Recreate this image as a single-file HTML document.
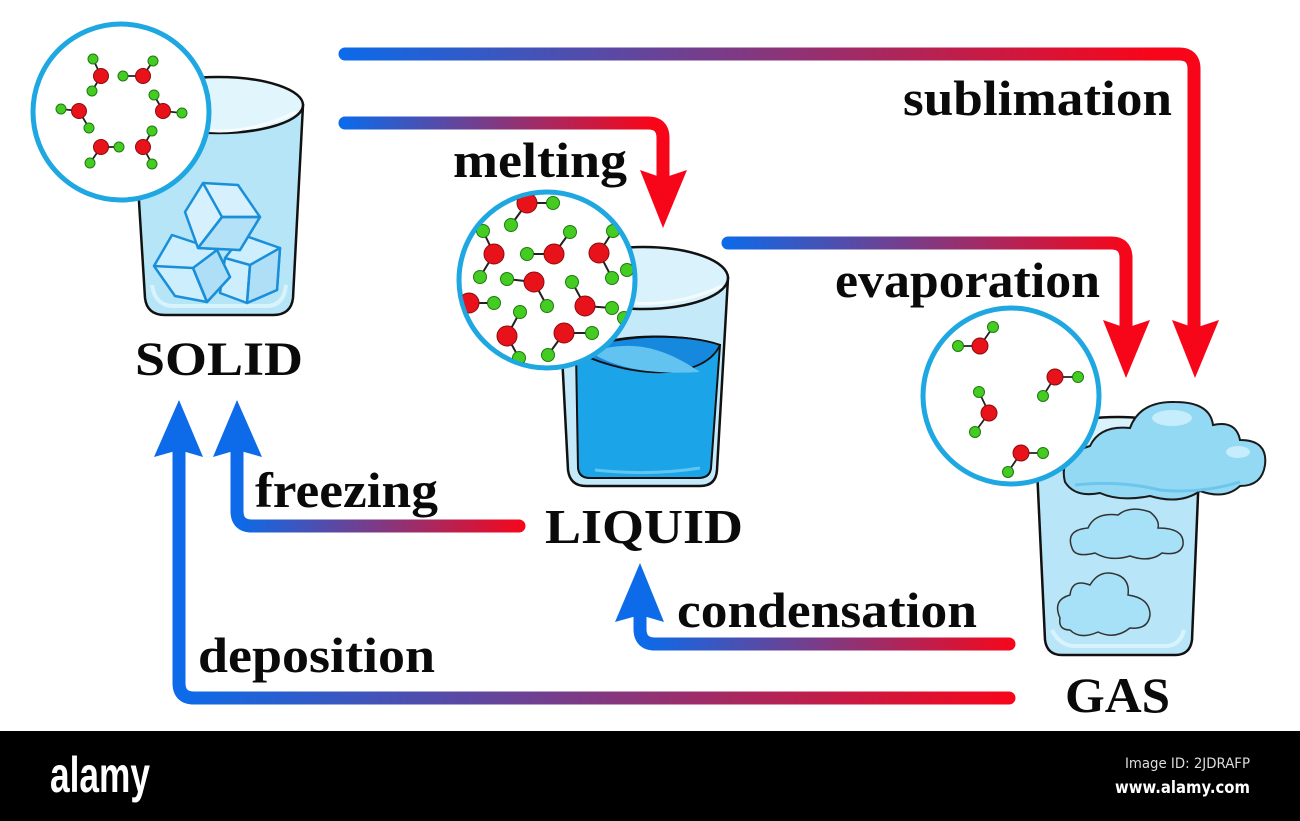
<!DOCTYPE html>
<html><head><meta charset="utf-8"><style>
html,body{margin:0;padding:0;background:#fff;}
svg{display:block;}
text{font-family:"Liberation Serif",serif;font-weight:bold;fill:#0a0a0a;}
</style></head><body>
<svg width="1300" height="821" viewBox="0 0 1300 821" xmlns="http://www.w3.org/2000/svg">
<defs>
<linearGradient id="gSub" gradientUnits="userSpaceOnUse" x1="345" y1="0" x2="1150" y2="0"><stop offset="0" stop-color="#0d6ae8"/><stop offset="1" stop-color="#f7061a"/></linearGradient>
<linearGradient id="gMel" gradientUnits="userSpaceOnUse" x1="345" y1="0" x2="650" y2="0"><stop offset="0" stop-color="#0d6ae8"/><stop offset="1" stop-color="#f7061a"/></linearGradient>
<linearGradient id="gEva" gradientUnits="userSpaceOnUse" x1="725" y1="0" x2="1126" y2="0"><stop offset="0" stop-color="#0d6ae8"/><stop offset="1" stop-color="#f7061a"/></linearGradient>
<linearGradient id="gFre" gradientUnits="userSpaceOnUse" x1="240" y1="0" x2="525" y2="0"><stop offset="0" stop-color="#0d6ae8"/><stop offset="1" stop-color="#f7061a"/></linearGradient>
<linearGradient id="gDep" gradientUnits="userSpaceOnUse" x1="185" y1="0" x2="1015" y2="0"><stop offset="0" stop-color="#0d6ae8"/><stop offset="1" stop-color="#f7061a"/></linearGradient>
<linearGradient id="gCon" gradientUnits="userSpaceOnUse" x1="645" y1="0" x2="1015" y2="0"><stop offset="0" stop-color="#0d6ae8"/><stop offset="1" stop-color="#f7061a"/></linearGradient>
<clipPath id="cS"><circle cx="121" cy="112" r="86"/></clipPath>
<clipPath id="cL"><circle cx="547" cy="280" r="86"/></clipPath>
<clipPath id="cG"><circle cx="1011" cy="396" r="86"/></clipPath>
</defs>
<rect x="0" y="0" width="1300" height="821" fill="#fff"/>

<!-- ARROWS -->
<g fill="none" stroke-width="13" stroke-linecap="round" stroke-linejoin="round">
<path d="M345,54 H1179 Q1194,54 1194,69 V326" stroke="url(#gSub)"/>
<path d="M345,123 H648 Q663,123 663,138 V176" stroke="url(#gMel)"/>
<path d="M728,243 H1111 Q1126,243 1126,258 V326" stroke="url(#gEva)"/>
<path d="M519,526 H252 Q237,526 237,511 V452" stroke="url(#gFre)"/>
<path d="M1009,698 H194 Q179,698 179,683 V452" stroke="url(#gDep)"/>
<path d="M1009,644 H655 Q640,644 640,629 V617" stroke="url(#gCon)"/>
</g>
<g fill="#f7061a">
<polygon points="1172,320 1195,328 1219,320 1195,378"/>
<polygon points="640,170 663,178 687,170 663,228"/>
<polygon points="1103,320 1126,328 1150,320 1126,378"/>
</g>
<g fill="#0d6ae8">
<polygon points="213,457 237,450 262,457 237,400"/>
<polygon points="154,457 179,450 203,457 179,400"/>
<polygon points="615,622 640,615 664,622 640,563"/>
</g>

<!-- SOLID GLASS -->
<path d="M133,105 L145,298 Q147,315 165,315 L273,315 Q291,315 293,298 L303,105 Z" fill="#b6e5f8" stroke="#111" stroke-width="2.5"/>
<path d="M152,285 Q155,305 172,306 L268,306 Q284,305 286,285" fill="none" stroke="#d9f3fc" stroke-width="4"/>
<ellipse cx="218" cy="105" rx="85" ry="28" fill="#e1f5fd" stroke="#111" stroke-width="2.5"/>
<path d="M145,112 Q218,150 296,112" fill="none" stroke="#f6fcff" stroke-width="3"/>
<!-- ice cubes -->
<g stroke="#1a8fd9" stroke-width="2.5" stroke-linejoin="round">
<polygon points="243,235 280,248 277,290 247,303 220,293 225,258" fill="#cdeefc"/>
<polygon points="250,265 280,248 277,290 247,303" fill="#aedff7"/>
<polyline points="225,258 250,265 247,303" fill="none"/>
<polygon points="172,235 217,250 230,277 207,302 175,296 154,266" fill="#cdeefc"/>
<polygon points="193,268 217,250 230,277 207,302" fill="#aedff7"/>
<polyline points="154,266 193,268 207,302" fill="none"/>
<polygon points="203,183 238,185 260,217 240,250 198,248 185,212" fill="#d6f1fd"/>
<polygon points="222,217 260,217 240,250 198,248" fill="#b3e1f8"/>
<polyline points="203,183 222,217 260,217" fill="none"/>
<line x1="222" y1="217" x2="198" y2="248"/>
</g>
<!-- solid circle -->
<circle cx="121" cy="112" r="88" fill="#fff" stroke="#1ea7e1" stroke-width="5"/>
<g clip-path="url(#cS)">
<g stroke="#222" stroke-width="1.8">
<line x1="101" y1="76" x2="93" y2="59"/><line x1="101" y1="76" x2="92" y2="91"/>
<line x1="143" y1="76" x2="123" y2="76"/><line x1="143" y1="76" x2="153" y2="61"/>
<line x1="163" y1="111" x2="154" y2="95"/><line x1="163" y1="111" x2="182" y2="113"/>
<line x1="79" y1="111" x2="61" y2="109"/><line x1="79" y1="111" x2="89" y2="128"/>
<line x1="101" y1="147" x2="119" y2="147"/><line x1="101" y1="147" x2="90" y2="163"/>
<line x1="143" y1="147" x2="152" y2="131"/><line x1="143" y1="147" x2="152" y2="164"/>
</g>
<g fill="#45cc22" stroke="#1f7a10" stroke-width="1">
<circle cx="93" cy="59" r="5"/><circle cx="92" cy="91" r="5"/>
<circle cx="123" cy="76" r="5"/><circle cx="153" cy="61" r="5"/>
<circle cx="154" cy="95" r="5"/><circle cx="182" cy="113" r="5"/>
<circle cx="61" cy="109" r="5"/><circle cx="89" cy="128" r="5"/>
<circle cx="119" cy="147" r="5"/><circle cx="90" cy="163" r="5"/>
<circle cx="152" cy="131" r="5"/><circle cx="152" cy="164" r="5"/>
</g>
<g fill="#e8121a" stroke="#8a0c0c" stroke-width="1">
<circle cx="101" cy="76" r="7.5"/><circle cx="143" cy="76" r="7.5"/>
<circle cx="163" cy="111" r="7.5"/><circle cx="79" cy="111" r="7.5"/>
<circle cx="101" cy="147" r="7.5"/><circle cx="143" cy="147" r="7.5"/>
</g>
</g>

<!-- LIQUID GLASS -->
<path d="M558,278 L568,470 Q570,486 586,486 L700,486 Q716,486 717,470 L728,278 Z" fill="#c4eaf9" stroke="#111" stroke-width="2.5"/>
<path d="M576,352 C620,330 690,335 720,345 L711,468 Q710,478 698,478 L590,478 Q579,478 578,468 Z" fill="#1ba4e7" stroke="#111" stroke-width="2"/>
<path d="M576,352 C620,332 690,334 720,345 C705,378 640,382 576,352 Z" fill="#1689df" stroke="#111" stroke-width="1.8"/>
<path d="M590,352 C630,340 660,345 700,372 C650,375 615,368 590,352 Z" fill="#63c3f0"/>
<path d="M595,470 Q650,476 700,468" fill="none" stroke="#5fc6f2" stroke-width="3"/>
<ellipse cx="643" cy="278" rx="85" ry="31" fill="#d9f2fc" stroke="#111" stroke-width="2.5"/>
<path d="M566,284 Q643,322 722,286" fill="none" stroke="#f4fbff" stroke-width="3"/>
<!-- liquid circle -->
<circle cx="547" cy="280" r="88" fill="#fff" stroke="#1ea7e1" stroke-width="5"/>
<g clip-path="url(#cL)">
<g stroke="#222" stroke-width="2">
<line x1="527" y1="203" x2="553" y2="203"/><line x1="527" y1="203" x2="511" y2="225"/>
<line x1="494" y1="254" x2="483" y2="231"/><line x1="494" y1="254" x2="480" y2="277"/>
<line x1="554" y1="254" x2="527" y2="254"/><line x1="554" y1="254" x2="570" y2="232"/>
<line x1="599" y1="253" x2="613" y2="231"/><line x1="599" y1="253" x2="612" y2="278"/>
<line x1="534" y1="282" x2="507" y2="279"/><line x1="534" y1="282" x2="547" y2="306"/>
<line x1="469" y1="303" x2="494" y2="303"/>
<line x1="585" y1="306" x2="572" y2="282"/><line x1="585" y1="306" x2="612" y2="308"/>
<line x1="507" y1="336" x2="520" y2="312"/><line x1="507" y1="336" x2="519" y2="358"/>
<line x1="564" y1="333" x2="592" y2="333"/><line x1="564" y1="333" x2="548" y2="355"/>
</g>
<g fill="#45cc22" stroke="#1f7a10" stroke-width="1">
<circle cx="553" cy="203" r="6.5"/><circle cx="511" cy="225" r="6.5"/>
<circle cx="483" cy="231" r="6.5"/><circle cx="480" cy="277" r="6.5"/>
<circle cx="527" cy="254" r="6.5"/><circle cx="570" cy="232" r="6.5"/>
<circle cx="613" cy="231" r="6.5"/><circle cx="612" cy="278" r="6.5"/>
<circle cx="507" cy="279" r="6.5"/><circle cx="547" cy="306" r="6.5"/>
<circle cx="494" cy="303" r="6.5"/>
<circle cx="572" cy="282" r="6.5"/><circle cx="612" cy="308" r="6.5"/>
<circle cx="520" cy="312" r="6.5"/><circle cx="519" cy="358" r="6.5"/>
<circle cx="592" cy="333" r="6.5"/><circle cx="548" cy="355" r="6.5"/>
<circle cx="627" cy="270" r="6.5"/><circle cx="624" cy="318" r="6.5"/>
</g>
<g fill="#e8121a" stroke="#8a0c0c" stroke-width="1">
<circle cx="527" cy="203" r="10"/><circle cx="494" cy="254" r="10"/>
<circle cx="554" cy="254" r="10"/><circle cx="599" cy="253" r="10"/>
<circle cx="534" cy="282" r="10"/><circle cx="469" cy="303" r="10"/>
<circle cx="585" cy="306" r="10"/><circle cx="507" cy="336" r="10"/>
<circle cx="564" cy="333" r="10"/>
</g>
</g>

<!-- GAS GLASS -->
<path d="M1036,447 L1045,640 Q1047,655 1062,655 L1175,655 Q1190,655 1192,640 L1200,447 Z" fill="#b8e6f8" stroke="#111" stroke-width="2.5"/>
<path d="M1052,630 Q1060,646 1075,646 L1165,646 Q1180,646 1184,630" fill="none" stroke="#d9f3fc" stroke-width="4"/>
<ellipse cx="1118" cy="447" rx="82" ry="30" fill="#d9f2fc" stroke="#111" stroke-width="2.5"/>
<!-- top cloud -->
<path d="M1065,482 Q1058,455 1090,446 Q1100,425 1130,428 Q1140,401 1175,402 Q1210,402 1213,425 Q1236,420 1240,440 Q1268,440 1265,465 Q1262,486 1240,486 Q1225,500 1200,491 Q1180,505 1150,496 Q1120,502 1100,493 Q1075,498 1065,482 Z" fill="#93d9f4" stroke="#1a1a1a" stroke-width="2"/>
<ellipse cx="1172" cy="418" rx="20" ry="8" fill="#c5edfb"/>
<ellipse cx="1238" cy="452" rx="12" ry="6" fill="#c5edfb"/>
<path d="M1075,485 Q1120,480 1160,490 Q1200,494 1240,482" fill="none" stroke="#6cc6ec" stroke-width="3"/>
<!-- inner clouds -->
<path d="M1072,548 Q1065,530 1088,528 Q1095,512 1118,515 Q1130,505 1150,512 Q1160,520 1158,528 Q1185,528 1183,545 Q1180,556 1162,553 Q1150,563 1130,556 Q1110,562 1095,553 Q1075,558 1072,548 Z" fill="#a6e1f7" stroke="#333" stroke-width="1.5"/>
<path d="M1060,618 Q1052,600 1070,595 Q1072,578 1090,585 Q1100,568 1118,575 Q1130,580 1128,595 Q1150,598 1150,615 Q1148,630 1130,628 Q1115,640 1098,632 Q1080,640 1070,630 Q1058,630 1060,618 Z" fill="#a6e1f7" stroke="#333" stroke-width="1.5"/>
<!-- gas circle -->
<circle cx="1011" cy="396" r="88" fill="#fff" stroke="#1ea7e1" stroke-width="5"/>
<g clip-path="url(#cG)">
<g stroke="#222" stroke-width="1.8">
<line x1="980" y1="346" x2="958" y2="346"/><line x1="980" y1="346" x2="993" y2="327"/>
<line x1="1055" y1="377" x2="1078" y2="377"/><line x1="1055" y1="377" x2="1043" y2="396"/>
<line x1="989" y1="413" x2="979" y2="392"/><line x1="989" y1="413" x2="975" y2="432"/>
<line x1="1021" y1="453" x2="1043" y2="453"/><line x1="1021" y1="453" x2="1008" y2="472"/>
</g>
<g fill="#45cc22" stroke="#1f7a10" stroke-width="1">
<circle cx="958" cy="346" r="5.5"/><circle cx="993" cy="327" r="5.5"/>
<circle cx="1078" cy="377" r="5.5"/><circle cx="1043" cy="396" r="5.5"/>
<circle cx="979" cy="392" r="5.5"/><circle cx="975" cy="432" r="5.5"/>
<circle cx="1043" cy="453" r="5.5"/><circle cx="1008" cy="472" r="5.5"/>
</g>
<g fill="#e8121a" stroke="#8a0c0c" stroke-width="1">
<circle cx="980" cy="346" r="8"/><circle cx="1055" cy="377" r="8"/>
<circle cx="989" cy="413" r="8"/><circle cx="1021" cy="453" r="8"/>
</g>
</g>

<!-- LABELS -->
<text x="135" y="375" font-size="48" textLength="168" lengthAdjust="spacingAndGlyphs">SOLID</text>
<text x="545" y="543" font-size="49" textLength="198" lengthAdjust="spacingAndGlyphs">LIQUID</text>
<text x="1065" y="712" font-size="50" textLength="105" lengthAdjust="spacingAndGlyphs">GAS</text>
<text x="453" y="177" font-size="50" textLength="174" lengthAdjust="spacingAndGlyphs">melting</text>
<text x="903" y="115" font-size="50" textLength="269" lengthAdjust="spacingAndGlyphs">sublimation</text>
<text x="835" y="297" font-size="50" textLength="265" lengthAdjust="spacingAndGlyphs">evaporation</text>
<text x="255" y="507" font-size="50" textLength="183" lengthAdjust="spacingAndGlyphs">freezing</text>
<text x="198" y="672" font-size="50" textLength="237" lengthAdjust="spacingAndGlyphs">deposition</text>
<text x="677" y="627" font-size="50" textLength="300" lengthAdjust="spacingAndGlyphs">condensation</text>

<!-- BOTTOM BAR -->
<rect x="0" y="731" width="1300" height="90" fill="#000"/>
<text x="50" y="792" font-size="50" textLength="100" lengthAdjust="spacingAndGlyphs" style="font-family:'Liberation Sans',sans-serif;font-weight:bold;fill:#fff;">alamy</text>
<text x="1125" y="768" font-size="14" textLength="125" lengthAdjust="spacingAndGlyphs" style="font-family:'DejaVu Sans',sans-serif;font-weight:normal;fill:#ddd;">Image ID: 2JDRAFP</text>
<text x="1115" y="793" font-size="17" textLength="135" lengthAdjust="spacingAndGlyphs" style="font-family:'DejaVu Sans',sans-serif;font-weight:bold;fill:#fff;">www.alamy.com</text>
</svg>
</body></html>
